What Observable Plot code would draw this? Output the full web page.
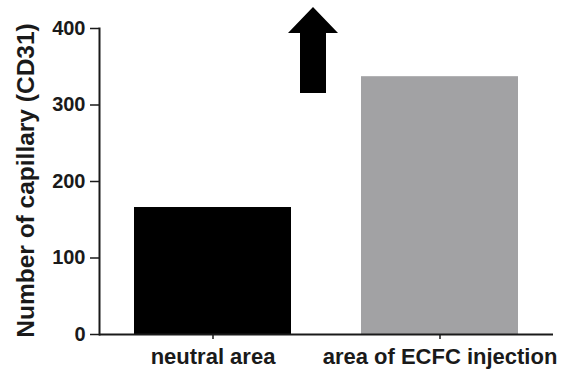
<!DOCTYPE html>
<html>
<head>
<meta charset="utf-8">
<script src="https://cdn.jsdelivr.net/npm/d3@7"></script>
<script src="https://cdn.jsdelivr.net/npm/@observablehq/plot@0.6"></script>
<style>
  html, body { margin: 0; padding: 0; background: #fff; }
</style>
</head>
<body>
<div id="chart"></div>
<script>
const categories = ["neutral area", "area of ECFC injection"];
const values = [166, 337];
const barColors = ["#000000", "#a2a2a4"];
const yTicks = [0, 100, 200, 300, 400];
const yLabel = "Number of capillary (CD31)";
const arrowAt = [{x: "area of ECFC injection", y: 372}];

const data = categories.map((c, i) => ({category: c, value: values[i], color: barColors[i]}));

const arrowSymbol = {
  draw(context) {
    context.moveTo(0, -43);
    context.lineTo(25, -17);
    context.lineTo(13, -17);
    context.lineTo(13, 43);
    context.lineTo(-13, 43);
    context.lineTo(-13, -17);
    context.lineTo(-25, -17);
    context.closePath();
  }
};

const chart = Plot.plot({
  width: 577,
  height: 376,
  marginLeft: 99,
  marginRight: 24,
  marginTop: 28,
  marginBottom: 42,
  style: {fontFamily: "'Liberation Sans', Arial, sans-serif", background: "#fff", color: "#1a1a1a"},
  x: {domain: categories, paddingInner: 0.31, paddingOuter: 0.155, label: null},
  y: {domain: [0, 400], label: null},
  marks: [
    Plot.barY(data, {x: "category", y: "value", fill: "color"}),
    Plot.ruleY([0], {stroke: "#1a1a1a", strokeWidth: 2}),
    Plot.frame({anchor: "left", stroke: "#1a1a1a", strokeWidth: 2}),
    Plot.axisY({ticks: yTicks, tickSize: 9, tickPadding: 5, tickFormat: d => d, fontSize: 20, fontWeight: "bold", label: null, strokeWidth: 1.5}),
    Plot.axisX({tickSize: 5, tickPadding: 9, fontSize: 22, fontWeight: "bold", label: null, strokeWidth: 1.5}),
    Plot.text([yLabel], {frameAnchor: "left", text: d => d, rotate: -90, dx: -73, dy: -1, fontSize: 24.5, fontWeight: "bold", textAnchor: "middle", lineAnchor: "middle", fill: "#1a1a1a"}),
    Plot.dot(arrowAt, {x: "x", y: "y", dx: -127, symbol: arrowSymbol, fill: "#000", stroke: "none", r: 10})
  ]
});
document.getElementById("chart").appendChild(chart);
</script>
</body>
</html>
